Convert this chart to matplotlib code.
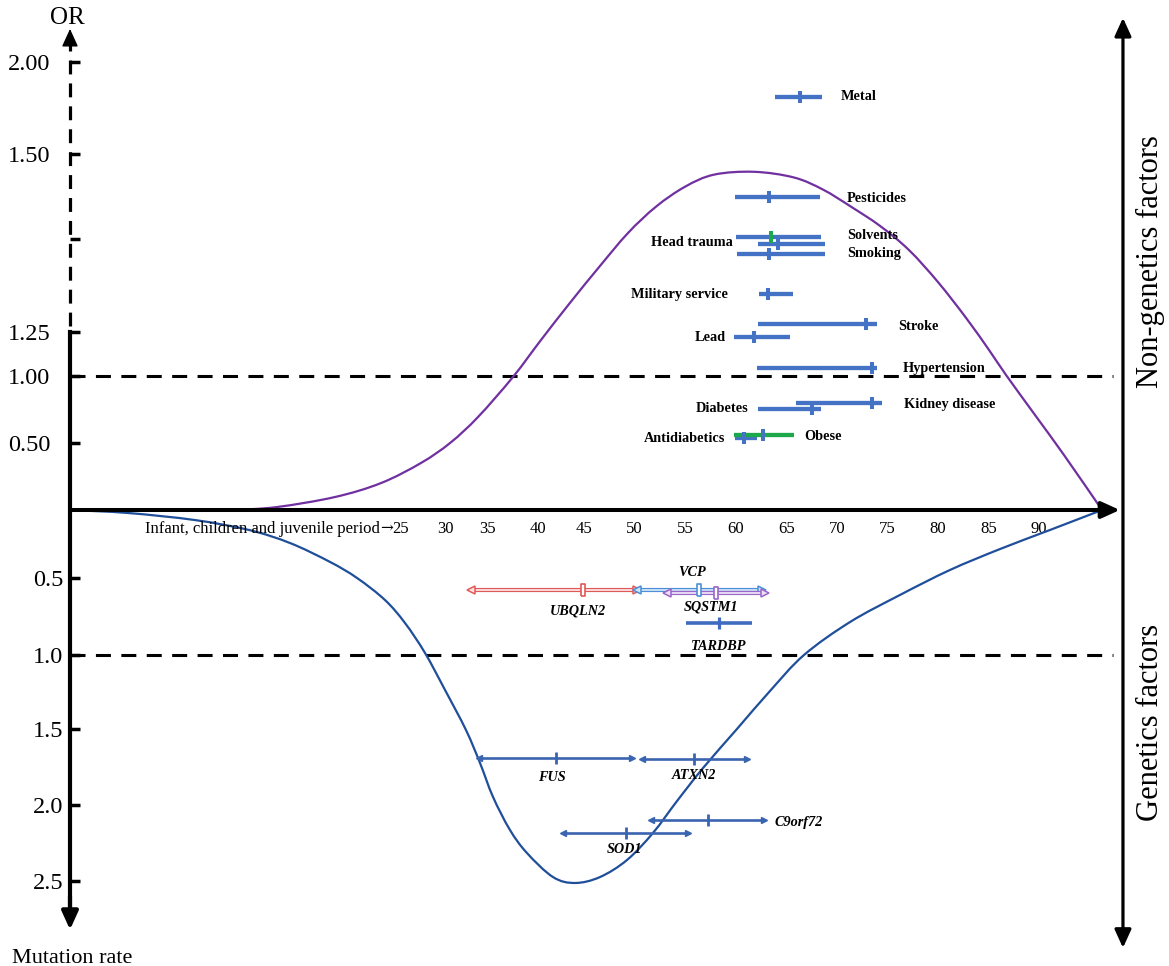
import numpy as np
import matplotlib
matplotlib.use('Agg')
import matplotlib.pyplot as plt
from matplotlib.path import Path
from matplotlib.patches import PathPatch
from matplotlib.transforms import IdentityTransform

plt.rcParams['font.family'] = ['Liberation Serif', 'DejaVu Serif']
plt.rcParams['lines.scale_dashes'] = False

# ---------------------------------------------------------------- data
AGE_TICKS = [25, 30, 35, 40, 45, 50, 55, 60, 65, 70, 75, 80, 85, 90]
AGE_TICK_LABELS = [str(a) for a in AGE_TICKS]
OR_TICKS = [0.50, 1.00, 1.25, 1.38, 1.50, 2.00]
OR_TICK_LABELS = ['0.50', '1.00', '1.25', '', '1.50', '2.00']
RATE_TICKS = [0.5, 1.0, 1.5, 2.0, 2.5]
RATE_TICK_LABELS = ['0.5', '1.0', '1.5', '2.0', '2.5']

# non-genetic risk curve (age, OR)
nongen_age = [12.5, 15.63, 20.02, 23.49, 27.27, 30.6, 33.93, 37.55, 40.33, 43.48,
              46.48, 49.35, 52.12, 54.99, 57.86, 61.82, 65.77, 68.64, 71.41, 74.28,
              77.15, 80.02, 82.78, 85.06, 86.74, 89.61, 92.48, 96.24]
nongen_or = [0.0, 0.022, 0.097, 0.201, 0.351, 0.50, 0.694, 0.993, 1.205, 1.291,
             1.341, 1.389, 1.426, 1.454, 1.471, 1.475, 1.467, 1.450, 1.426, 1.399,
             1.365, 1.320, 1.270, 1.148, 1.006, 0.709, 0.410, 0.0]

# genetic curve (age, mutation rate)
gen_age = [0.0, 4.38, 9.44, 13.52, 16.62, 19.64, 21.68, 23.79, 25.45, 27.73, 30.0,
           32.5, 34.17, 35.59, 37.25, 38.92, 41.63, 44.02, 46.58, 49.25, 51.82,
           54.2, 56.77, 60.13, 63.4, 66.76, 71.31, 76.26, 81.2, 86.15, 91.09, 96.24]
gen_rate = [0.0, 0.022, 0.074, 0.147, 0.243, 0.382, 0.50, 0.643, 0.792, 0.987, 1.236,
            1.507, 1.724, 1.947, 2.164, 2.316, 2.474, 2.513, 2.474, 2.362, 2.184,
            1.974, 1.757, 1.500, 1.243, 1.0, 0.786, 0.610, 0.441, 0.287, 0.147, 0.0]

# non-genetic factors
factors = ['Metal', 'Pesticides', 'Solvents', 'Head trauma', 'Smoking',
           'Military service', 'Stroke', 'Lead', 'Hypertension', 'Kidney disease',
           'Diabetes', 'Obese', 'Antidiabetics']
factor_or = [1.811, 1.440, 1.383, 1.373, 1.360, 1.303, 1.261, 1.223, 1.047, 0.801,
             0.754, 0.562, 0.540]
factor_lo = [63.89, 59.94, 60.03, 62.21, 60.13, 62.31, 62.21, 59.84, 62.11, 65.97,
             62.21, 59.84, 59.94]
factor_mid = [66.36, 63.30, 63.47, 64.19, 63.30, 63.20, 72.89, 61.82, 73.49, 73.49,
              67.55, 62.70, 60.82]
factor_hi = [68.54, 68.34, 68.44, 68.84, 68.84, 65.67, 73.98, 65.38, 73.98, 74.48,
             68.44, 65.77, 62.11]
factor_label_age = [70.39, 71.01, 71.01, 59.74, 71.01, 59.24, 76.06, 59.05, 76.55,
                    76.65, 61.22, 66.76, 58.95]
factor_label_or = [1.81, 1.437, 1.386, 1.375, 1.360, 1.303, 1.258, 1.216, 1.040,
                   0.784, 0.761, 0.552, 0.530]
factor_label_ha = ['left', 'left', 'left', 'right', 'left', 'right', 'left', 'right',
                   'left', 'left', 'right', 'left', 'right']

# genetic factors
genes = ['UBQLN2', 'VCP', 'SQSTM1', 'TARDBP', 'FUS', 'ATXN2', 'C9orf72', 'SOD1']
gene_rate = [0.578, 0.578, 0.595, 0.792, 1.693, 1.697, 2.099, 2.186]
gene_lo = [33.06, 50.24, 53.21, 55.09, 34.05, 50.74, 51.63, 42.72]
gene_mid = [44.89, 56.37, 58.06, 58.35, 41.96, 55.88, 57.27, 49.15]
gene_hi = [50.21, 62.61, 62.90, 61.62, 49.75, 61.12, 62.80, 55.29]
gene_label_age = [44.35, 55.68, 57.56, 58.35, 41.52, 55.88, 63.89, 49.05]
gene_label_rate = [0.714, 0.463, 0.688, 0.948, 1.816, 1.809, 2.112, 2.296]
gene_label_ha = ['center', 'center', 'center', 'center', 'center', 'center', 'left', 'center']

# ---------------------------------------------------------------- styles
BLUE = '#4472C4'
GREEN = '#1DA84C'
factor_bar_color = [BLUE] * 11 + [GREEN, BLUE]
factor_tick_color = [BLUE, BLUE, GREEN] + [BLUE] * 10
gene_style = ['hollow', 'hollow', 'hollow', 'solid', 'arrow', 'arrow', 'arrow', 'arrow']
gene_color = ['#E05A5A', '#4A8FD8', '#9A66C8', '#3F6CBF', '#3A64B0', '#3A64B0', '#3A64B0', '#3A64B0']
gene_fill = ['#FBE2E2', '#D2E6F8', '#EEE0F7', None, None, None, None, None]

# ---------------------------------------------------------------- figure
W, H = 1169, 966
fig = plt.figure(figsize=(W / 100, H / 100), dpi=100)
ax = fig.add_axes([0, 0, 1, 1])

# schematic (piecewise) scales
X_AGE = np.array([-10.0, 0.0, 25, 30, 35, 40, 45, 110])
X_PIX = np.array([70 - 10 * 13.24, 70, 401, 445, 487, 538, 584, 584 + 65 * 10.11])
Y_VAL = np.array([-3.5, -2.5, -2.0, -1.5, -1.0, -0.5, 0.0, 0.5, 1.0, 1.25, 1.5, 2.0, 2.6])
Y_PIX = H - np.array([881 + 152, 881, 805, 729, 655, 578, 510, 443, 376, 332, 154, 62,
                      62 - 0.6 * 184])


def fx(a):
    return np.interp(a, X_AGE, X_PIX)


def ix(p):
    return np.interp(p, X_PIX, X_AGE)


def fy(v):
    return np.interp(v, Y_VAL, Y_PIX)


def iy(p):
    return np.interp(p, Y_PIX, Y_VAL)


ax.set_xscale('function', functions=(fx, ix))
ax.set_yscale('function', functions=(fy, iy))
ax.set_xlim(ix(0), ix(W))
ax.set_ylim(iy(0), iy(H))

for s in ['top', 'right', 'bottom']:
    ax.spines[s].set_visible(False)
ax.spines['bottom'].set_position(('data', 0))
ax.spines['left'].set_position(('data', 0))
ax.spines['left'].set_bounds(-2.76, 1.25)
ax.spines['left'].set_linewidth(3)

ax.set_yticks(OR_TICKS, OR_TICK_LABELS)
ax.set_yticks([-r for r in RATE_TICKS], RATE_TICK_LABELS, minor=True)
ax.tick_params(axis='y', which='both', direction='in', length=7, width=2.5,
               labelsize=17.5, left=True, right=False)
ax.tick_params(axis='y', which='major', pad=14)
ax.tick_params(axis='y', which='minor', pad=5)
ax.set_xticks(AGE_TICKS, AGE_TICK_LABELS)
ax.tick_params(axis='x', which='both', length=0, pad=8.2, labelsize=12)
ax.annotate('\u2192', xy=(25, 0), xytext=(-6, -8.6), textcoords='offset points',
            ha='right', va='top', fontsize=11, family=['DejaVu Serif'])
ax.annotate('Infant, children and juvenile period', xy=(25, 0), xytext=(-15.5, -8.2),
            textcoords='offset points', ha='right', va='top', fontsize=12)

HEAD = '-|>,head_length=1.1,head_width=0.5'
# upper dashed part of left axis and arrow heads
ax.plot([0, 0], [1.258, 2.09], color='k', lw=2.3, dashes=(10, 6.5), zorder=5)
ax.annotate('', xy=(0, 2.18), xytext=(0, 2.09),
            arrowprops=dict(arrowstyle=HEAD, mutation_scale=10, lw=1, color='k',
                            shrinkA=0, shrinkB=0), zorder=5)
ax.annotate('', xy=(0, -2.82), xytext=(0, -2.6),
            arrowprops=dict(arrowstyle=HEAD, mutation_scale=10, lw=3, color='k',
                            shrinkA=0, shrinkB=0), zorder=5)
# x axis arrow
ax.annotate('', xy=(98.0, 0), xytext=(0, 0),
            arrowprops=dict(arrowstyle=HEAD, mutation_scale=10, lw=2.9, color='k',
                            shrinkA=0, shrinkB=0), zorder=5)
# right double arrow
ax.annotate('', xy=(98.31, 2.24), xytext=(98.31, -2.94),
            arrowprops=dict(arrowstyle='<|-|>,head_length=1.1,head_width=0.5',
                            mutation_scale=10, lw=2.3, color='k',
                            shrinkA=0, shrinkB=0), zorder=5)
# reference lines OR = 1 and mutation rate = 1
ax.plot([0, 97.3], [1.0, 1.0], color='k', lw=2.2, dashes=(10.8, 7.5), zorder=2)
ax.plot([0, 97.3], [-1.0, -1.0], color='k', lw=2.2, dashes=(10.8, 7.5), zorder=2)


def smooth_curve(xs, ys, **kw):
    """Draw the read points as a smooth Catmull-Rom curve in display space."""
    P = ax.transData.transform(np.column_stack([xs, ys]))
    Q = np.vstack([P[0], P, P[-1]])
    verts = [tuple(P[0])]
    codes = [Path.MOVETO]
    for k in range(1, len(Q) - 2):
        p0, p1, p2, p3 = Q[k - 1], Q[k], Q[k + 1], Q[k + 2]
        c1 = p1 + (p2 - p0) / 6.0
        c2 = p2 - (p3 - p1) / 6.0
        verts += [tuple(c1), tuple(c2), tuple(p2)]
        codes += [Path.CURVE4] * 3
    patch = PathPatch(Path(verts, codes), facecolor='none', transform=IdentityTransform(), **kw)
    ax.add_patch(patch)


smooth_curve(nongen_age, nongen_or, edgecolor='#7030A0', lw=1.6, zorder=2)
smooth_curve(gen_age, [-r for r in gen_rate], edgecolor='#1F4E9A', lw=1.6, zorder=2)

# non-genetic factor bars (drawn bottom-up so upper ones overlay)
for i in reversed(range(len(factors))):
    ax.plot([factor_lo[i], factor_hi[i]], [factor_or[i]] * 2, color=factor_bar_color[i],
            lw=3.1, solid_capstyle='butt', zorder=3)
for i in range(len(factors)):
    ax.plot([factor_mid[i]], [factor_or[i]], marker='|', ms=9, mew=2.9,
            color=factor_tick_color[i], linestyle='none', zorder=4)
    ax.text(factor_label_age[i], factor_label_or[i], factors[i], ha=factor_label_ha[i],
            va='center', fontsize=10.3, fontweight='bold', zorder=6)

RECT = [(-0.35, -1), (0.35, -1), (0.35, 1), (-0.35, 1), (-0.35, -1)]
for i, g in enumerate(genes):
    v = -gene_rate[i]
    c = gene_color[i]
    lo, mid, hi = gene_lo[i], gene_mid[i], gene_hi[i]
    if gene_style[i] == 'hollow':
        f = gene_fill[i]
        ax.plot([lo, hi], [v, v], color=c, lw=3.0, solid_capstyle='butt', zorder=3)
        ax.plot([lo, hi], [v, v], color=f, lw=1.3, solid_capstyle='butt', zorder=3)
        ax.plot([lo], [v], marker='<', ms=5.5, mfc=f, mec=c, mew=1.1, zorder=3)
        ax.plot([hi], [v], marker='>', ms=5.5, mfc=f, mec=c, mew=1.1, zorder=3)
        ax.plot([mid], [v], marker=RECT, ms=9, mfc='white', mec=c, mew=1.2, zorder=4)
    elif gene_style[i] == 'arrow':
        ax.plot([lo, hi], [v, v], color=c, lw=1.9, solid_capstyle='butt', zorder=3)
        ax.plot([lo], [v], marker='<', ms=4.5, color=c, zorder=3)
        ax.plot([hi], [v], marker='>', ms=4.5, color=c, zorder=3)
        ax.plot([mid], [v], marker='|', ms=8, mew=2.0, color=c, zorder=4)
    else:
        ax.plot([lo, hi], [v, v], color=c, lw=2.6, solid_capstyle='butt', zorder=3)
        ax.plot([mid], [v], marker='|', ms=8.6, mew=2.3, color=c, zorder=4)
    ax.text(gene_label_age[i], -gene_label_rate[i], g, ha=gene_label_ha[i], va='center',
            fontsize=10.3, fontweight='bold', fontstyle='italic', zorder=6)

# axis titles and side labels
ax.text(67 / W, 1 - 24 / H, 'OR', transform=ax.transAxes, ha='center', va='baseline',
        fontsize=18)
ax.text(72 / W, 1 - 963 / H, 'Mutation rate', transform=ax.transAxes, ha='center',
        va='baseline', fontsize=16)
ax.text(1150 / W, 1 - 262 / H, 'Non-genetics factors', transform=ax.transAxes,
        rotation=90, ha='center', va='center', fontsize=22)
ax.text(1150 / W, 1 - 722 / H, 'Genetics factors', transform=ax.transAxes,
        rotation=90, ha='center', va='center', fontsize=22)

fig.savefig('out.png', dpi=100)
